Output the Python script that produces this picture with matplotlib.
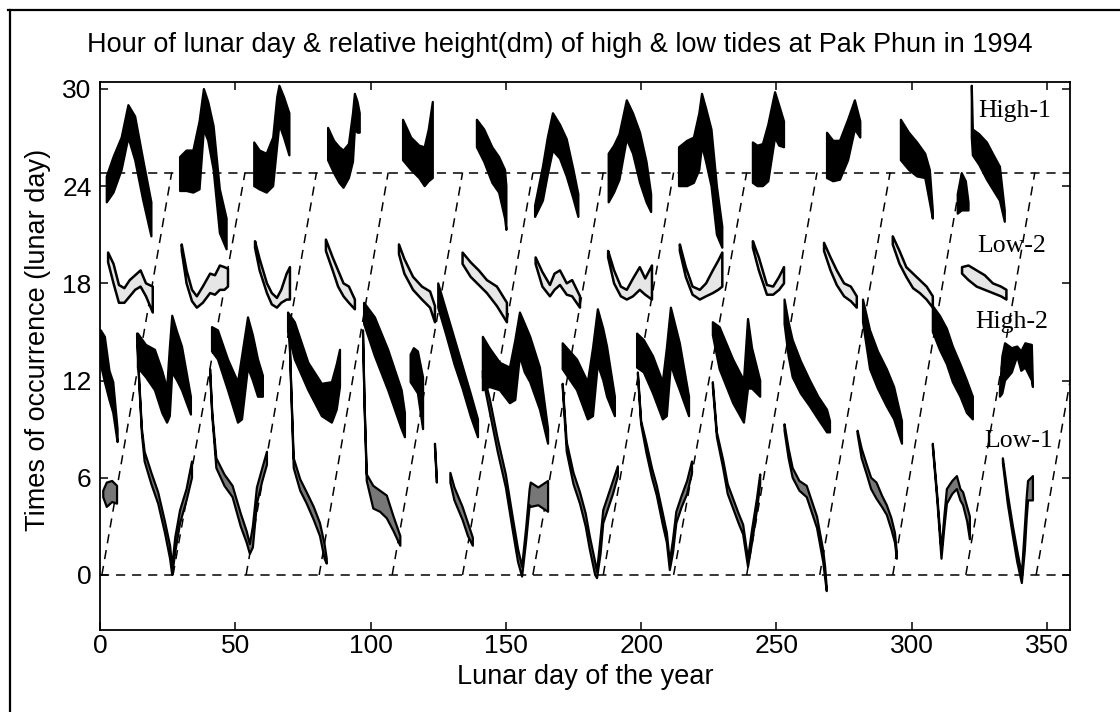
"""Redraw of the Pak Phun 1994 lunar-day tide chart (high/low tide bands)."""

import numpy as np
import matplotlib
matplotlib.use("Agg")
import matplotlib.pyplot as plt
from matplotlib.lines import Line2D
from matplotlib.ticker import MultipleLocator

nan = np.nan
LUNAR_DAY = 24.84  # hours in one lunar day (height of the dashed guide)

# dashed transit guide: day where each ramp leaves 0 and day it reaches 24.84 h
ramp_start = [0.7, 27, 54, 81, 108, 134, 160, 186, 212, 239, 266, 293, 320, 346]
ramp_end = [26.5, 53.6, 80, 106.5, 134, 160, 186, 212, 239, 265, 292, 318.5, 345.5, 372]

# High-1 band (lunar day, lower edge, upper edge); nan splits the cycles
high1_x = [2.5, 5, 8, 10.5, 13, 16, 19, nan,
           29.6, 32, 34.5, 36.8, 38.4, 40, 42, 44.3, 46.8, nan,
           57, 59, 61.6, 64, 65.5, 66.3, 68, 70, nan,
           84.3, 86.5, 88.5, 90, 92, 93.5, 94.2, 95.2, 96, nan,
           112, 115, 118, 120, 121.5, 123, nan,
           139.3, 142, 145, 147.5, 149.7, 150.2, nan,
           160.8, 163.7, 165.5, 167.4, 170, 172.5, 175, 176.8, nan,
           188, 190, 192, 194.7, 197, 199.6, 202, 203.7, nan,
           214, 217, 219.5, 221.5, 222.5, 224, 226, 228, 230, nan,
           241.3, 243, 245, 247, 249.5, 251, 252.8, nan,
           268.7, 271, 273.5, 276.5, 279, 281, nan,
           296, 299, 302, 305, 306.7, 307.8, nan,
           317, 318.5, 320, 321, nan,
           322.2, 322.6, 325, 327.8, 330, 332.6, 334.4]
high1_lo = [23.0, 23.6, 25.0, 27.0, 25.6, 23.1, 20.9, nan,
            23.7, 23.7, 23.6, 23.8, 27.5, 26.8, 25.0, 21.1, 20.1, nan,
            24.0, 23.8, 23.6, 24.0, 26.5, 27.8, 27.0, 25.9, nan,
            25.6, 24.8, 24.2, 23.9, 24.5, 25.5, 27.5, 27.3, 27.3, nan,
            25.6, 25.0, 24.5, 24.0, 24.3, 24.5, nan,
            26.4, 25.5, 24.2, 23.6, 22.0, 21.3, nan,
            22.1, 23.1, 24.7, 26.2, 25.7, 24.6, 23.2, 22.1, nan,
            23.0, 23.6, 24.4, 26.9, 26.0, 24.2, 23.0, 22.4, nan,
            24.0, 24.0, 24.2, 25.0, 26.5, 25.5, 24.0, 21.0, 20.2, nan,
            24.2, 24.0, 24.0, 24.3, 27.0, 26.5, 26.4, nan,
            24.5, 24.3, 24.4, 25.6, 27.5, 27.0, nan,
            25.6, 25.0, 24.6, 24.5, 23.0, 22.0, nan,
            22.3, 22.5, 22.5, 22.5, nan,
            27.0, 25.9, 25.3, 24.4, 23.8, 23.1, 21.8]
high1_hi = [24.6, 25.8, 27.0, 29.0, 28.3, 25.6, 23.0, nan,
            25.8, 26.2, 26.2, 28.0, 30.0, 29.2, 27.7, 23.8, 22.0, nan,
            26.7, 26.2, 26.0, 27.0, 29.5, 30.2, 29.5, 28.5, nan,
            27.6, 26.8, 26.4, 26.2, 26.6, 28.5, 29.7, 29.2, 28.5, nan,
            28.1, 27.0, 26.5, 26.4, 27.5, 29.2, nan,
            28.1, 27.5, 26.4, 25.8, 25.0, 24.0, nan,
            22.8, 25.2, 27.0, 28.5, 27.8, 26.9, 25.0, 23.5, nan,
            26.0, 26.5, 27.2, 29.3, 28.5, 27.3, 25.5, 23.5, nan,
            26.4, 26.8, 27.0, 28.5, 29.7, 28.8, 27.5, 24.0, 21.5, nan,
            26.7, 26.5, 26.6, 27.8, 29.8, 29.0, 28.0, nan,
            27.3, 26.8, 26.8, 28.1, 29.3, 28.0, nan,
            28.1, 27.3, 26.7, 26.0, 25.0, 22.5, nan,
            23.5, 24.8, 24.3, 23.0, nan,
            30.2, 27.5, 27.2, 26.7, 26.0, 25.2, 22.5]

# Low-2 band
low2_x = [3, 5, 7, 9, 11, 13, 15, 17, 19.5, nan,
          30.2, 32, 34, 35.8, 38, 40.7, 42.5, 44.3, 46, 47.3, nan,
          57.3, 59, 61.7, 63.5, 65.4, 67, 69, 70.2, nan,
          83.5, 86, 88, 90, 92, 94.2, nan,
          110.5, 112.5, 115.7, 119, 122, 123.8, nan,
          134, 137, 140, 143, 146.7, 150.4, nan,
          161, 163.5, 166.3, 168, 170, 172.5, 174.5, 177.4, nan,
          187.8, 190, 192.5, 194.7, 197, 199.5, 201.5, 204, nan,
          214.3, 216.5, 219, 221.7, 224, 226.5, 228.5, 230, nan,
          241.3, 243.5, 246.5, 248.8, 251, 252.8, nan,
          267.6, 270, 272.3, 275, 277.5, 279.7, nan,
          293, 295.5, 298, 300.5, 303, 305.5, 307.8, nan,
          318.6, 321, 324, 327, 330, 333, 335]
low2_lo = [19.3, 18.0, 16.8, 16.8, 17.2, 17.6, 17.8, 17.2, 16.2, nan,
           20.0, 18.0, 16.9, 16.5, 16.8, 17.4, 17.3, 17.6, 17.6, 17.8, nan,
           20.2, 18.8, 17.4, 16.7, 16.5, 16.8, 17.0, 17.0, nan,
           20.0, 18.8, 17.8, 17.2, 16.8, 16.4, nan,
           19.8, 18.6, 17.6, 17.0, 16.5, 15.6, nan,
           19.2, 18.4, 17.9, 17.4, 16.6, 15.6, nan,
           19.2, 17.8, 17.2, 17.6, 17.9, 17.3, 17.2, 16.5, nan,
           19.6, 18.0, 17.2, 17.0, 17.2, 17.6, 17.3, 17.0, nan,
           20.0, 18.4, 17.3, 17.0, 17.2, 17.4, 17.6, 17.8, nan,
           20.2, 18.8, 17.3, 17.3, 17.6, 18.0, nan,
           20.0, 18.8, 17.9, 17.2, 16.9, 16.5, nan,
           20.4, 19.2, 18.4, 17.7, 17.4, 17.0, 16.5, nan,
           18.6, 18.2, 17.8, 17.6, 17.4, 17.2, 17.0]
low2_hi = [19.9, 19.2, 17.9, 17.7, 18.2, 18.5, 18.8, 18.0, 17.8, nan,
           20.4, 18.8, 17.6, 17.2, 17.8, 18.6, 18.5, 19.1, 19.0, 18.9, nan,
           20.6, 19.5, 18.0, 17.4, 17.1, 17.6, 18.6, 19.0, nan,
           20.7, 19.6, 18.8, 18.0, 17.8, 17.0, nan,
           20.4, 19.5, 18.4, 17.8, 17.5, 16.6, nan,
           19.9, 19.3, 18.8, 18.2, 17.8, 16.8, nan,
           19.6, 18.7, 17.9, 18.6, 18.8, 18.0, 18.2, 17.2, nan,
           20.0, 18.8, 17.8, 17.6, 18.3, 19.0, 18.3, 19.1, nan,
           20.4, 19.0, 17.8, 17.6, 18.0, 18.8, 19.4, 19.9, nan,
           20.6, 19.6, 17.9, 17.8, 18.4, 19.0, nan,
           20.5, 19.6, 18.8, 18.0, 17.8, 17.2, nan,
           20.9, 20.0, 19.0, 18.6, 18.2, 17.8, 17.2, nan,
           19.0, 19.1, 18.8, 18.5, 18.0, 17.8, 17.6]

# High-2 band
high2_x = [0.3, 1.8, 3.5, 4.9, 6.5, nan,
           14, 17, 20.3, 23, 24.8, 25.8, 26.7, 28.5, 30.3, 33.6, nan,
           41.4, 43.6, 47.3, 51, 52.5, 54.7, 56.5, 58.4, 60.2, nan,
           69.5, 72, 77, 82, 85.7, 87.5, 88.7, nan,
           97.6, 101.6, 106.5, 111.5, 112.7, nan,
           114.8, 116, 117.5, 119.4, nan,
           125, 128, 131, 134, 137, 139.7, nan,
           141.5, 144, 147.8, 151.5, 153.5, 155.2, 157, 159, 162.6, 165.6, nan,
           171, 176.3, 180.3, 182.2, 184, 186, 187.4, 190.3, nan,
           198.5, 201, 204.4, 208, 209.5, 211, 212.5, 214.3, 217.7, nan,
           226.5, 229, 234, 238, 239.5, 241, 244, nan,
           253, 254.5, 256, 259, 262.4, 265.5, 268.7, 269.8, nan,
           282, 284.6, 287.5, 290.8, 293.5, 296.4, nan,
           307.8, 310.4, 313, 315.2, 318, 320.4, 322.6, nan,
           332.6, 333.5, 334.5, 337, 339, 340.5, 342, 344.4, 344.8]
high2_lo = [13.0, 11.9, 10.8, 10.0, 8.2, nan,
            12.8, 12.2, 11.4, 10.0, 9.4, 9.8, 12.5, 12.0, 11.4, 9.9, nan,
            13.8, 13.3, 11.4, 9.4, 9.6, 12.8, 12.0, 11.0, 11.0, nan,
            15.0, 13.3, 11.4, 9.8, 9.4, 10.2, 11.6, nan,
            15.5, 13.5, 11.4, 9.0, 8.5, nan,
            11.9, 11.6, 11.2, 9.0, nan,
            16.5, 14.8, 13.0, 11.5, 9.8, 8.5, nan,
            11.4, 11.6, 11.4, 10.6, 10.8, 13.5, 12.5, 11.9, 10.2, 8.1, nan,
            12.7, 11.4, 9.6, 9.8, 13.0, 12.0, 11.0, 9.8, nan,
            12.8, 12.5, 11.2, 9.6, 9.8, 13.0, 12.2, 11.4, 9.8, nan,
            14.8, 12.7, 10.6, 9.4, 11.5, 11.5, 11.0, nan,
            15.5, 13.5, 12.2, 11.2, 10.4, 9.6, 8.8, 8.8, nan,
            15.6, 12.7, 11.5, 10.4, 9.6, 8.1, nan,
            15.0, 13.9, 13.0, 11.9, 11.0, 10.0, 9.6, nan,
            11.0, 11.2, 12.0, 12.5, 13.5, 12.6, 12.8, 12.0, 11.6]
high2_hi = [15.1, 14.7, 12.6, 11.9, 9.0, nan,
            14.9, 14.2, 13.9, 12.6, 11.5, 14.0, 16.0, 15.0, 14.1, 11.0, nan,
            15.3, 15.1, 13.3, 11.9, 13.5, 15.9, 14.8, 13.3, 12.3, nan,
            16.2, 15.6, 13.1, 11.8, 11.9, 13.0, 13.9, nan,
            16.8, 15.9, 13.9, 11.4, 10.0, nan,
            13.6, 14.0, 13.8, 12.2, nan,
            18.0, 16.3, 14.6, 12.9, 11.2, 9.6, nan,
            14.7, 14.0, 13.1, 12.8, 14.5, 16.2, 15.5, 14.7, 12.8, 9.0, nan,
            14.3, 13.3, 11.9, 14.0, 16.4, 15.2, 14.1, 11.0, nan,
            14.9, 14.5, 13.5, 11.9, 14.0, 16.5, 15.5, 14.3, 11.0, nan,
            15.6, 15.3, 13.3, 12.0, 15.8, 14.0, 12.0, nan,
            17.0, 15.6, 14.5, 13.2, 12.0, 11.0, 10.2, 9.5, nan,
            17.0, 15.1, 13.8, 12.7, 11.6, 9.5, nan,
            16.6, 16.0, 15.2, 14.1, 13.0, 12.0, 11.0, nan,
            11.4, 13.5, 14.3, 14.0, 14.1, 13.8, 14.3, 14.2, 11.7]

# Low-1 band
low1_x = [1.2, 2.5, 4.5, 6.3, nan,
          13.7, 14.5, 15.5, 16.5, 19, 21.5, 24, 25.9, 26.7, 27.8, 29.6, 32, 34, nan,
          40.7, 41.5, 43, 46, 49, 52, 54.2, 55.4, 56.5, 58, 60, 61.7, nan,
          70, 70.8, 71.6, 74, 76.4, 79, 81.3, 83, 83.8, nan,
          97.2, 97.8, 98.6, 101, 103.5, 106, 108.5, 111, nan,
          123.8, 124.5, nan,
          129.5, 131, 134, 136, 137.8, nan,
          141.5, 144, 147, 150, 152.5, 154.5, 156, 157.5, 158.8, 159.2, 162, 165.6, nan,
          171, 172.5, 175, 177.4, 179.5, 181, 183, 183.7, 185, 186, 188, 189.6, 191.4, nan,
          198.8, 200, 202, 204, 205.8, 208, 209.5, 210.6, 211.8, 213, 215, 217, 218.8, nan,
          226.5, 228, 230.3, 232, 234, 236, 237.7, 239.5, 241, 242.8, 244, nan,
          253, 254.5, 256, 258.5, 261.2, 263, 265, 267.3, 268, 268.6, nan,
          280, 281.5, 283.4, 285, 287, 289, 290.8, 292.5, 293.8, 294.5, nan,
          307.8, 309.5, 311, 312, 313, 315, 316.7, 318, 319, 320.5, 321.5, nan,
          333.7, 335.5, 337.4, 339, 340.7, 341.8, 342.5, 343, 344.8]
low1_lo = [4.8, 4.2, 4.5, 4.4, nan,
           14.7, 11.8, 8.7, 7.0, 5.6, 4.4, 2.6, 1.0, 0.0, 1.4, 3.2, 4.6, 6.0, nan,
           12.5, 9.8, 6.6, 5.5, 4.8, 3.0, 2.0, 1.3, 1.7, 4.4, 5.8, 6.8, nan,
           14.9, 10.8, 6.6, 5.2, 4.4, 3.4, 2.4, 1.0, 0.7, nan,
           14.9, 10.3, 5.8, 4.1, 3.9, 3.5, 2.7, 1.8, nan,
           7.9, 5.7, nan,
           5.7, 4.6, 3.4, 2.4, 1.8, nan,
           12.2, 10.1, 7.6, 5.4, 2.8, 0.8, -0.1, 2.1, 4.3, 4.2, 4.3, 3.9, nan,
           11.6, 7.6, 5.6, 4.4, 3.0, 1.6, 0.0, -0.2, 1.3, 3.2, 4.2, 5.0, 6.1, nan,
           12.3, 9.3, 7.5, 6.0, 4.9, 3.1, 2.0, 0.3, 1.4, 3.2, 4.2, 5.0, 6.3, nan,
           11.6, 8.5, 6.6, 5.0, 4.1, 3.2, 2.5, 0.5, 2.0, 4.0, 5.6, nan,
           8.9, 7.2, 6.0, 5.2, 4.8, 3.9, 2.9, 0.8, -0.2, -1.0, nan,
           8.7, 7.2, 6.2, 5.3, 4.7, 4.2, 3.7, 2.8, 2.0, 1.0, nan,
           7.9, 4.5, 1.0, 2.8, 4.4, 5.0, 5.3, 4.6, 4.3, 3.3, 2.2, nan,
           6.9, 4.4, 2.4, 0.8, -0.5, 1.5, 3.5, 4.6, 4.6]
low1_hi = [5.2, 5.7, 5.8, 5.5, nan,
           14.9, 12.0, 9.0, 7.6, 6.3, 5.1, 3.3, 1.8, 0.5, 2.3, 4.0, 5.3, 7.0, nan,
           12.7, 10.0, 7.2, 6.2, 5.5, 3.8, 2.7, 1.9, 3.0, 5.4, 6.6, 7.6, nan,
           15.1, 11.0, 7.2, 5.9, 5.1, 4.2, 3.2, 1.9, 1.0, nan,
           15.1, 10.5, 6.2, 5.5, 5.2, 4.9, 3.6, 2.4, nan,
           8.1, 5.9, nan,
           6.3, 5.4, 4.2, 3.2, 2.3, nan,
           12.6, 10.9, 8.4, 6.2, 3.6, 1.6, 0.5, 2.9, 5.3, 5.7, 5.4, 5.8, nan,
           11.8, 8.2, 6.3, 5.1, 3.8, 2.4, 0.8, 0.2, 2.3, 4.0, 5.0, 5.8, 6.7, nan,
           12.5, 9.5, 8.1, 6.6, 5.5, 3.8, 2.6, 0.8, 2.2, 3.9, 4.9, 5.8, 7.0, nan,
           11.9, 8.8, 7.1, 5.6, 4.7, 3.8, 3.1, 1.0, 2.8, 4.7, 6.2, nan,
           9.3, 7.8, 6.6, 5.8, 5.5, 4.6, 3.6, 1.5, 0.5, -0.8, nan,
           8.9, 7.8, 6.8, 6.0, 5.7, 4.9, 4.3, 3.5, 2.6, 1.4, nan,
           8.1, 4.8, 1.5, 3.5, 5.3, 5.8, 6.1, 5.3, 5.1, 4.2, 3.6, nan,
           7.2, 5.0, 3.0, 1.5, 0.0, 2.9, 4.8, 5.8, 6.1]

band_labels = ["High-1", "Low-2", "High-2", "Low-1"]
label_x = [324.5, 324.1, 323.4, 327.0]
label_y = [28.27, 19.94, 15.25, 7.9]

x_ticks = [0, 50, 100, 150, 200, 250, 300, 350]
y_ticks = [0, 6, 12, 18, 24, 30]


def band(ax, x, lo, hi, face, edge, lw, z):
    ax.fill_between(np.asarray(x, float), np.asarray(lo, float), np.asarray(hi, float),
                    facecolor=face, edgecolor=edge, linewidth=lw, zorder=z)


def main():
    plt.rcParams["font.family"] = ["Liberation Sans", "DejaVu Sans"]
    fig = plt.figure(figsize=(11.2, 7.12), dpi=100)
    ax = fig.add_axes([100 / 1120, 82 / 712, 970 / 1120, 548 / 712])

    dash = dict(color="black", linewidth=1.1, dashes=(6, 4.5), zorder=2)
    ax.axhline(0, **dash)
    ax.axhline(LUNAR_DAY, **dash)
    for x0, x1 in zip(ramp_start, ramp_end):
        ax.plot([x0, x1], [0, LUNAR_DAY], **dash)

    band(ax, high1_x, high1_lo, high1_hi, "black", "black", 1.6, 3)
    band(ax, low2_x, low2_lo, low2_hi, "#e6e6e6", "black", 1.8, 3)
    band(ax, high2_x, high2_lo, high2_hi, "black", "black", 1.6, 3)
    band(ax, low1_x, low1_lo, low1_hi, "#777777", "black", 1.6, 3)

    for lab, lx, ly in zip(band_labels, label_x, label_y):
        ax.text(lx, ly, lab, family=["Liberation Serif", "DejaVu Serif"],
                fontsize=18.5, ha="left", va="baseline", zorder=5)

    ax.set_xlim(0, 358.5)
    ax.set_ylim(-3.4, 30.43)
    ax.set_xticks(x_ticks)
    ax.set_yticks(y_ticks)
    ax.xaxis.set_minor_locator(MultipleLocator(1000))
    for sp in ax.spines.values():
        sp.set_linewidth(1.3)
    ax.tick_params(direction="in", length=6, width=1.1, top=True, right=True,
                   labelsize=19)
    ax.tick_params(axis="x", pad=3)
    ax.tick_params(axis="y", pad=6)

    fig.text(0.5, 1 - 45 / 712,
             "Hour of lunar day & relative height(dm) of high & low tides at Pak Phun in 1994",
             ha="center", va="center", fontsize=19.5)
    fig.text(585 / 1120, 1 - 677 / 712, "Lunar day of the year",
             ha="center", va="center", fontsize=19.5)
    fig.text(38 / 1120, 1 - 340 / 712, "Times of occurrence (lunar day)",
             ha="center", va="center", rotation=90, fontsize=19.5)

    # scanned page frame
    fig.add_artist(Line2D([10 / 1120, 10 / 1120], [0, 1 - 10 / 712],
                          transform=fig.transFigure, color="black", lw=1.6))
    fig.add_artist(Line2D([8 / 1120, 1], [1 - 10 / 712, 1 - 10 / 712],
                          transform=fig.transFigure, color="black", lw=1.6))

    fig.savefig("out.png", dpi=100, facecolor="white")
    plt.close(fig)


if __name__ == "__main__":
    main()
